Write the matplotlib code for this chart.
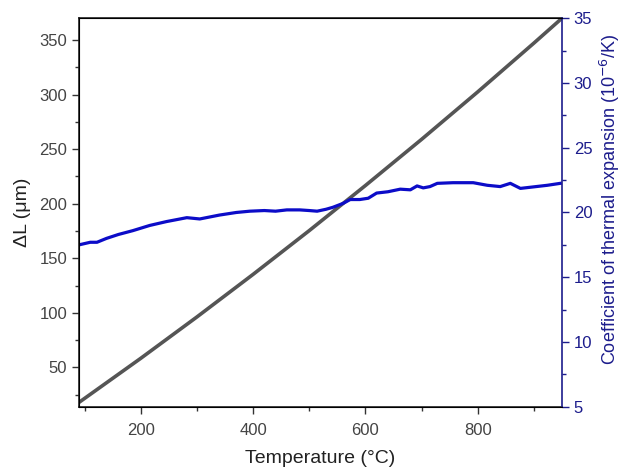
import numpy as np
import matplotlib.pyplot as plt
from matplotlib.ticker import MultipleLocator

plt.rcParams['font.family'] = ['Liberation Sans', 'DejaVu Sans']

# dilatometer data
temp_dl = [90, 200, 300, 400, 500, 600, 700, 800, 900, 950]
dl = [18, 58.4, 96.3, 135.3, 175.4, 216.7, 259.0, 302.5, 347.2, 370]

temp_cte = [90, 110, 122, 139, 160, 186, 216, 246, 282, 305, 340, 370, 394,
            420, 440, 460, 483, 500, 514, 530, 542, 560, 573, 590, 605, 620,
            640, 662, 680, 692, 703, 715, 728, 756, 792, 817, 840, 858, 876,
            900, 924, 947]
cte = [17.5, 17.7, 17.7, 18.0, 18.3, 18.6, 19.0, 19.3, 19.6, 19.5, 19.8,
       20.0, 20.1, 20.15, 20.1, 20.2, 20.2, 20.15, 20.1, 20.25, 20.4, 20.7,
       21.0, 21.0, 21.1, 21.5, 21.6, 21.8, 21.75, 22.05, 21.9, 22.0, 22.25,
       22.3, 22.3, 22.1, 22.0, 22.25, 21.86, 21.98, 22.1, 22.25]

navy = '#1c1c8c'
fig = plt.figure(figsize=(6.24, 4.67), dpi=100)
ax = fig.add_axes([0.1266, 0.129, 0.774, 0.832])
ax2 = ax.twinx()

ax.plot(temp_dl, dl, color='#555555', lw=2.6, solid_capstyle='butt', zorder=3)
ax2.plot(temp_cte, cte, color='#0c0cc8', lw=2.3)

ax.set_xlim(90, 950)
ax.set_ylim(14, 370)
ax2.set_ylim(5, 35)

ax.xaxis.set_major_locator(MultipleLocator(200))
ax.xaxis.set_minor_locator(MultipleLocator(100))
ax.yaxis.set_major_locator(MultipleLocator(50))
ax.yaxis.set_minor_locator(MultipleLocator(25))
ax2.yaxis.set_major_locator(MultipleLocator(5))
ax2.yaxis.set_minor_locator(MultipleLocator(2.5))

ax.tick_params(axis='both', which='major', length=5, width=1, labelsize=12,
               labelcolor='#444444', color='#333333')
ax.tick_params(axis='x', which='major', pad=7)
ax.tick_params(axis='both', which='minor', length=3, width=1, color='#333333')
ax.tick_params(top=False, which='both')
ax2.tick_params(axis='y', which='major', length=5, width=1, labelsize=12,
                colors=navy)
ax2.tick_params(axis='y', which='minor', length=3, width=1, colors=navy)

for s in ['left', 'bottom', 'top']:
    ax.spines[s].set_color('#222222')
    ax.spines[s].set_linewidth(1.2)
ax2.spines['right'].set_color(navy)
ax2.spines['right'].set_linewidth(1.2)
ax.spines['right'].set_visible(False)

ax.set_xlabel('Temperature (°C)', fontsize=14, color='#222222', labelpad=8)
ax.set_ylabel('ΔL (μm)', fontsize=14, color='#222222', labelpad=6)
ax2.set_ylabel('Coefficient of thermal expansion (10$^{-6}$/K)', fontsize=13,
               color=navy)
ax2.yaxis.set_label_coords(1.075, 0.535)

plt.savefig('out.png', dpi=100)
